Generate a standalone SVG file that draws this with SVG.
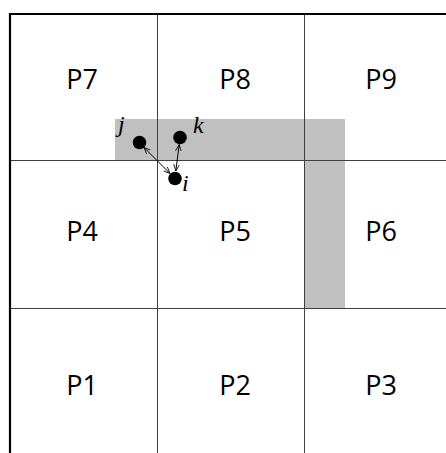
<svg xmlns="http://www.w3.org/2000/svg" width="446" height="453" viewBox="0 0 446 453">
<defs>
<style>
.lbl{font-family:"Open Sans","Liberation Sans",sans-serif;font-size:27px;fill:#000;text-anchor:middle}
.var{font-family:"Liberation Serif",serif;font-style:italic;font-size:24px;fill:#000}
.grid{stroke:#404040;stroke-width:1;fill:none}
.conn{stroke:#000;stroke-width:1;fill:none;marker-start:url(#ah);marker-end:url(#ah)}
</style>
<marker id="ah" viewBox="0 0 10 10" refX="9.5" refY="5" markerWidth="7" markerHeight="7" orient="auto-start-reverse" markerUnits="userSpaceOnUse">
<path d="M0,1 L9.5,5 L0,9" fill="none" stroke="#000" stroke-width="1.2"/>
</marker>
</defs>
<rect width="446" height="453" fill="#fff"/>
<g id="region">
<rect x="115" y="119" width="230" height="41.5" fill="#c0c0c0"/>
<rect x="305" y="160" width="40" height="148" fill="#c0c0c0"/>
</g>
<g id="grid">
<line class="grid" x1="157.5" y1="14" x2="157.5" y2="453"/>
<line class="grid" x1="304.5" y1="14" x2="304.5" y2="453"/>
<line class="grid" x1="10" y1="160.5" x2="446" y2="160.5"/>
<line class="grid" x1="10" y1="308.5" x2="446" y2="308.5"/>
<path d="M10,453 L10,14 L446,14" fill="none" stroke="#000" stroke-width="2.2"/>
</g>
<g id="cells">
<g id="P7"><text class="lbl" x="82" y="89">P7</text></g>
<g id="P8"><text class="lbl" x="235" y="89">P8</text></g>
<g id="P9"><text class="lbl" x="381" y="89">P9</text></g>
<g id="P4"><text class="lbl" x="82" y="241">P4</text></g>
<g id="P5"><text class="lbl" x="235" y="241">P5</text></g>
<g id="P6"><text class="lbl" x="381" y="241">P6</text></g>
<g id="P1"><text class="lbl" x="82" y="395">P1</text></g>
<g id="P2"><text class="lbl" x="235" y="395">P2</text></g>
<g id="P3"><text class="lbl" x="381" y="395">P3</text></g>
</g>
<g id="connectors">
<line class="conn" x1="144" y1="147.5" x2="170" y2="173.5"/>
<line class="conn" x1="179.2" y1="144.5" x2="175.8" y2="171"/>
</g>
<g id="node-j"><circle cx="139.5" cy="142.5" r="6.8" fill="#000"/><text class="var" x="118" y="132">j</text></g>
<g id="node-k"><circle cx="180" cy="137.5" r="6.8" fill="#000"/><text class="var" x="193" y="133">k</text></g>
<g id="node-i"><circle cx="175" cy="178.5" r="6.8" fill="#000"/><text class="var" x="182" y="191">i</text></g>
</svg>
